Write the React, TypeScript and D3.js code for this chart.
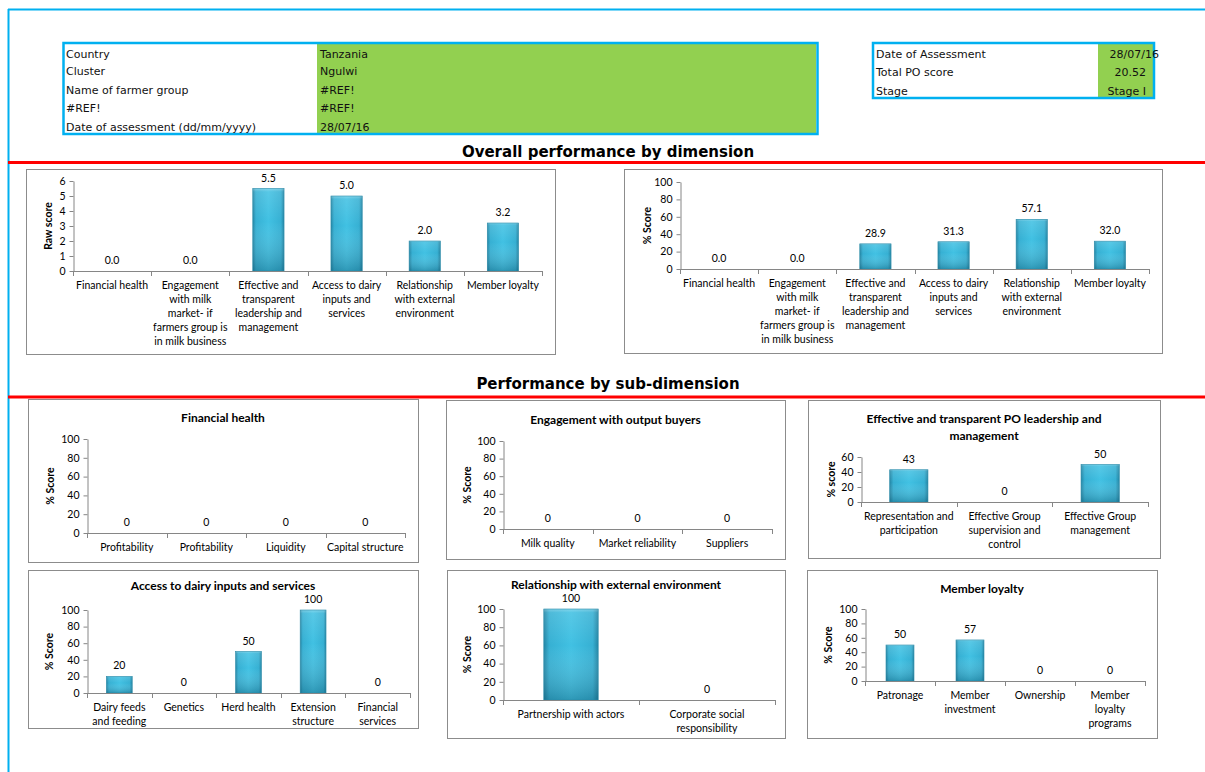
import React, { useEffect, useRef } from "react";
import * as d3 from "d3";

// ---- Header information ----
const groupFields = ["Country", "Cluster", "Name of farmer group", "#REF!", "Date of assessment (dd/mm/yyyy)"];
const groupValues = ["Tanzania", "Ngulwi", "#REF!", "#REF!", "28/07/16"];
const summaryFields = ["Date of Assessment", "Total PO score", "Stage"];
const summaryValues = ["28/07/16", "20.52", "Stage I"];

// ---- Overall performance by dimension ----
const dimensionCategories = [
  "Financial health",
  "Engagement\nwith milk\nmarket- if\nfarmers group is\nin milk business",
  "Effective and\ntransparent\nleadership and\nmanagement",
  "Access to dairy\ninputs and\nservices",
  "Relationship\nwith external\nenvironment",
  "Member loyalty",
];
const dimensionRawScores = [0.0, 0.0, 5.5, 5.0, 2.0, 3.2];
const dimensionPctScores = [0.0, 0.0, 28.9, 31.3, 57.1, 32.0];

// ---- Sub-dimensions ----
const financialCategories = ["Profitability", "Profitability", "Liquidity", "Capital structure"];
const financialScores = [0, 0, 0, 0];

const buyersCategories = ["Milk quality", "Market reliability", "Suppliers"];
const buyersScores = [0, 0, 0];

const leadershipCategories = [
  "Representation and\nparticipation",
  "Effective Group\nsupervision and\ncontrol",
  "Effective Group\nmanagement",
];
const leadershipScores = [43, 0, 50];

const inputsCategories = ["Dairy feeds\nand feeding", "Genetics", "Herd health", "Extension\nstructure", "Financial\nservices"];
const inputsScores = [20, 0, 50, 100, 0];

const externalCategories = ["Partnership with actors", "Corporate social\nresponsibility"];
const externalScores = [100, 0];

const loyaltyCategories = ["Patronage", "Member\ninvestment", "Ownership", "Member\nloyalty\nprograms"];
const loyaltyScores = [50, 57, 0, 0];

type ChartSpec = {
  box: [number, number, number, number];
  plot: { left: number; right: number; top: number; bottom: number };
  title: string[];
  titleY: number;
  yTitle: string;
  yTitleX: number;
  max: number;
  step: number;
  decimals: number;
  categories: string[];
  values: number[];
};

const charts: ChartSpec[] = [
  {
    box: [26, 169, 529, 185],
    plot: { left: 73, right: 542, top: 181, bottom: 271 },
    title: [], titleY: 0,
    yTitle: "Raw score", yTitleX: 48,
    max: 6, step: 1, decimals: 1,
    categories: dimensionCategories, values: dimensionRawScores,
  },
  {
    box: [624, 169, 538, 184],
    plot: { left: 680, right: 1149, top: 182, bottom: 269 },
    title: [], titleY: 0,
    yTitle: "% Score", yTitleX: 647,
    max: 100, step: 20, decimals: 1,
    categories: dimensionCategories, values: dimensionPctScores,
  },
  {
    box: [28, 399, 390, 163],
    plot: { left: 87, right: 405, top: 439, bottom: 533 },
    title: ["Financial health"], titleY: 422,
    yTitle: "% Score", yTitleX: 50,
    max: 100, step: 20, decimals: 0,
    categories: financialCategories, values: financialScores,
  },
  {
    box: [446, 400, 339, 159],
    plot: { left: 503, right: 772, top: 441, bottom: 529 },
    title: ["Engagement with output buyers"], titleY: 424,
    yTitle: "% Score", yTitleX: 467,
    max: 100, step: 20, decimals: 0,
    categories: buyersCategories, values: buyersScores,
  },
  {
    box: [808, 400, 352, 158],
    plot: { left: 861, right: 1148, top: 457, bottom: 502 },
    title: ["Effective and transparent PO leadership and", "management"], titleY: 423,
    yTitle: "% score", yTitleX: 831,
    max: 60, step: 20, decimals: 0,
    categories: leadershipCategories, values: leadershipScores,
  },
  {
    box: [28, 570, 390, 158],
    plot: { left: 87, right: 410, top: 610, bottom: 693 },
    title: ["Access to dairy inputs and services"], titleY: 590,
    yTitle: "% Score", yTitleX: 49,
    max: 100, step: 20, decimals: 0,
    categories: inputsCategories, values: inputsScores,
  },
  {
    box: [447, 570, 338, 168],
    plot: { left: 503, right: 775, top: 609, bottom: 700 },
    title: ["Relationship with external environment"], titleY: 589,
    yTitle: "% Score", yTitleX: 467,
    max: 100, step: 20, decimals: 0,
    categories: externalCategories, values: externalScores,
  },
  {
    box: [807, 570, 350, 168],
    plot: { left: 865, right: 1145, top: 609, bottom: 681 },
    title: ["Member loyalty"], titleY: 593,
    yTitle: "% Score", yTitleX: 828,
    max: 100, step: 20, decimals: 0,
    categories: loyaltyCategories, values: loyaltyScores,
  },
];

const CHART_FONT = "Lato, 'Open Sans', sans-serif";
const TABLE_FONT = "'DejaVu Sans', Verdana, sans-serif";
const AXIS_COLOR = "#868686";
const FRAME_BLUE = "#00b0f0";
const CELL_GREEN = "#92d050";

function drawChart(root: d3.Selection<SVGGElement, unknown, null, undefined>, spec: ChartSpec) {
  const g = root.append("g");
  const [bx, by, bw, bh] = spec.box;
  const { left, right, top, bottom } = spec.plot;

  g.append("rect")
    .attr("x", bx + 0.5).attr("y", by + 0.5)
    .attr("width", bw).attr("height", bh)
    .attr("fill", "#fff").attr("stroke", "#8c8c8c").attr("stroke-width", 1);

  spec.title.forEach((line, i) => {
    g.append("text")
      .attr("x", bx + bw / 2).attr("y", spec.titleY + i * 17)
      .attr("text-anchor", "middle")
      .attr("font-family", CHART_FONT).attr("font-weight", 700).attr("font-size", 12)
      .attr("fill", "#000").text(line);
  });

  const y = d3.scaleLinear().domain([0, spec.max]).range([bottom, top]);
  const x = d3.scaleBand<number>()
    .domain(d3.range(spec.values.length))
    .range([left, right])
    .paddingInner(0.6).paddingOuter(0.3);
  const stepW = (right - left) / spec.values.length;

  // y axis
  const yAxis = d3.axisLeft(y)
    .tickValues(d3.range(0, spec.max + spec.step / 2, spec.step))
    .tickSize(4).tickSizeOuter(0).tickPadding(4)
    .tickFormat(d3.format("d"));
  const ya = g.append("g").attr("transform", `translate(${left + 0.5},0)`).call(yAxis);
  ya.select(".domain").attr("stroke", AXIS_COLOR);
  ya.selectAll(".tick line").attr("stroke", AXIS_COLOR);
  ya.selectAll(".tick text")
    .attr("font-family", CHART_FONT).attr("font-size", 10.5).attr("fill", "#000");

  g.append("text")
    .attr("transform", `translate(${spec.yTitleX + 4},${(top + bottom) / 2}) rotate(-90)`)
    .attr("text-anchor", "middle")
    .attr("font-family", CHART_FONT).attr("font-weight", 700).attr("font-size", 10.5)
    .attr("fill", "#000").text(spec.yTitle);

  // bars
  const bars = g.append("g");
  spec.values.forEach((v, i) => {
    const x0 = x(i)!;
    const h = bottom - y(v);
    if (h > 0) {
      bars.append("rect")
        .attr("x", x0).attr("y", y(v))
        .attr("width", x.bandwidth()).attr("height", h)
        .attr("fill", "url(#barSide)");
      bars.append("rect")
        .attr("x", x0).attr("y", y(v))
        .attr("width", x.bandwidth()).attr("height", h)
        .attr("fill", "url(#barShade)")
        .attr("stroke", "#2a8aa8").attr("stroke-width", 0.6);
    }
    g.append("text")
      .attr("x", x0 + x.bandwidth() / 2).attr("y", y(v) - 7)
      .attr("text-anchor", "middle")
      .attr("font-family", CHART_FONT).attr("font-size", 10.5).attr("fill", "#000")
      .text(v.toFixed(spec.decimals));
  });

  // x axis with category boundary ticks
  g.append("line")
    .attr("x1", left).attr("x2", right)
    .attr("y1", bottom + 0.5).attr("y2", bottom + 0.5)
    .attr("stroke", AXIS_COLOR);
  d3.range(spec.values.length + 1).forEach((i) => {
    const tx = Math.round(left + i * stepW) + 0.5;
    g.append("line")
      .attr("x1", tx).attr("x2", tx)
      .attr("y1", bottom).attr("y2", bottom + 5)
      .attr("stroke", AXIS_COLOR);
  });

  spec.categories.forEach((cat, i) => {
    const cx = x(i)! + x.bandwidth() / 2;
    const t = g.append("text")
      .attr("text-anchor", "middle")
      .attr("font-family", CHART_FONT).attr("font-size", 10.5).attr("fill", "#000");
    cat.split("\n").forEach((line, k) => {
      t.append("tspan").attr("x", cx).attr("y", bottom + 18 + k * 14).text(line);
    });
  });
}

export default function App() {
  const ref = useRef<SVGSVGElement | null>(null);

  useEffect(() => {
    const svg = d3.select(ref.current!);
    svg.selectAll("*").remove();

    const defs = svg.append("defs");
    const side = defs.append("linearGradient").attr("id", "barSide")
      .attr("x1", 0).attr("x2", 1).attr("y1", 0).attr("y2", 0);
    [[0, "#2385a4"], [0.1, "#36b0d3"], [0.5, "#41c1e3"], [0.9, "#36b0d3"], [1, "#2385a4"]]
      .forEach(([o, c]) => side.append("stop").attr("offset", o as number).attr("stop-color", c as string));
    const shade = defs.append("linearGradient").attr("id", "barShade")
      .attr("x1", 0).attr("x2", 0).attr("y1", 0).attr("y2", 1);
    [[0, "#ffffff", 0.35], [0.04, "#ffffff", 0.12], [0.4, "#ffffff", 0], [1, "#003a50", 0.3]]
      .forEach(([o, c, a]) => shade.append("stop").attr("offset", o as number)
        .attr("stop-color", c as string).attr("stop-opacity", a as number));

    const root = svg.append("g");

    // page frame
    root.append("line").attr("x1", 8).attr("x2", 1205).attr("y1", 9.5).attr("y2", 9.5)
      .attr("stroke", FRAME_BLUE).attr("stroke-width", 2);
    root.append("line").attr("x1", 8.5).attr("x2", 8.5).attr("y1", 9).attr("y2", 772)
      .attr("stroke", FRAME_BLUE).attr("stroke-width", 2);

    // group information table
    root.append("rect").attr("x", 317).attr("y", 44).attr("width", 499).attr("height", 89).attr("fill", CELL_GREEN);
    root.append("rect").attr("x", 63.5).attr("y", 43).attr("width", 754).attr("height", 91)
      .attr("fill", "none").attr("stroke", FRAME_BLUE).attr("stroke-width", 2.5);
    const rowY = [58, 75, 94, 112, 131];
    groupFields.forEach((f, i) => {
      root.append("text").attr("x", 66).attr("y", rowY[i])
        .attr("font-family", TABLE_FONT).attr("font-size", 11).attr("fill", "#111").text(f);
      root.append("text").attr("x", 320).attr("y", rowY[i])
        .attr("font-family", TABLE_FONT).attr("font-size", 11).attr("fill", "#111").text(groupValues[i]);
    });

    // summary table
    root.append("rect").attr("x", 1098).attr("y", 44).attr("width", 56).attr("height", 53).attr("fill", CELL_GREEN);
    root.append("rect").attr("x", 873).attr("y", 43).attr("width", 281).attr("height", 55)
      .attr("fill", "none").attr("stroke", FRAME_BLUE).attr("stroke-width", 2.5);
    const sumY = [58, 76, 95];
    const sumRight = [1159, 1146, 1146];
    summaryFields.forEach((f, i) => {
      root.append("text").attr("x", 876).attr("y", sumY[i])
        .attr("font-family", TABLE_FONT).attr("font-size", 11).attr("fill", "#111").text(f);
      root.append("text").attr("x", sumRight[i]).attr("y", sumY[i]).attr("text-anchor", "end")
        .attr("font-family", TABLE_FONT).attr("font-size", 11).attr("fill", "#111").text(summaryValues[i]);
    });

    // section headings and dividers
    root.append("text").attr("x", 608).attr("y", 157).attr("text-anchor", "middle")
      .attr("font-family", TABLE_FONT).attr("font-weight", 700).attr("font-size", 15).attr("fill", "#000")
      .text("Overall performance by dimension");
    root.append("line").attr("x1", 8).attr("x2", 1205).attr("y1", 162.5).attr("y2", 162.5)
      .attr("stroke", "#ff0000").attr("stroke-width", 3);
    root.append("text").attr("x", 608).attr("y", 389).attr("text-anchor", "middle")
      .attr("font-family", TABLE_FONT).attr("font-weight", 700).attr("font-size", 15).attr("fill", "#000")
      .text("Performance by sub-dimension");
    root.append("line").attr("x1", 8).attr("x2", 1205).attr("y1", 397).attr("y2", 397)
      .attr("stroke", "#ff0000").attr("stroke-width", 3);

    charts.forEach((c) => drawChart(root, c));
  }, []);

  return (
    <svg
      ref={ref}
      width={1205}
      height={772}
      style={{ position: "absolute", left: 0, top: 0, background: "#fff" }}
    />
  );
}
